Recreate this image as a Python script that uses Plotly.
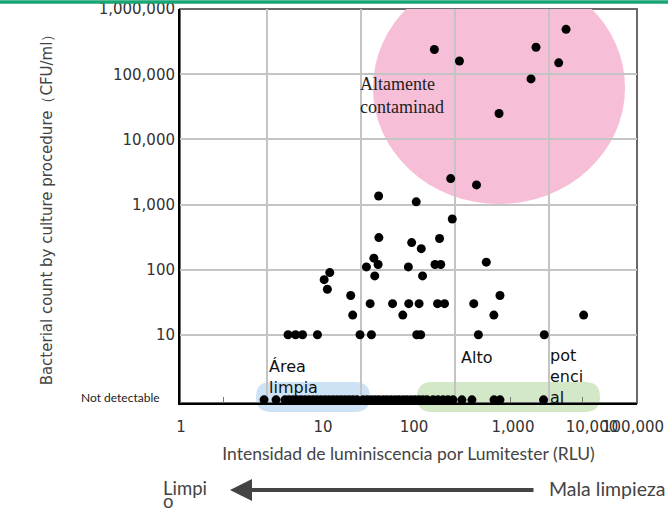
import plotly.graph_objects as go

# ---------------- data ----------------
RLU_DETECTED = [606, 1120, 7290, 15200, 12700, 6450, 2950, 904, 1700, 155, 389, 940,
                156, 348, 440, 688, 138, 115, 153, 321, 616, 708, 2160, 141, 454,
                46.9, 40.9, 44.2, 78.3, 82.2, 126, 218, 280, 324, 417, 655, 778, 1590, 3020, 2600, 23400,
                16.9, 20.3, 24.1, 34.7, 98.3, 130, 394, 434, 1780, 8930]
CFU_DETECTED = [240000, 160000, 260000, 490000, 150000, 85000, 25000, 2500, 2000, 1350, 1100, 600,
                310, 260, 210, 300, 150, 110, 120, 110, 120, 120, 130, 80, 80,
                90, 70, 50, 40, 20, 30, 30, 20, 30, 30, 30, 30, 30, 40, 20, 20,
                10, 10, 10, 10, 10, 10, 10, 10, 10, 10]
RLU_NOT_DETECTED = [9.4, 12.6, 15.7, 17.3, 19.1, 21.0, 23.2, 25.6, 28.2, 31.1, 34.3, 37.8,
                    41.8, 46.0, 50.8, 56.0, 61.8, 68.1, 75.1, 82.8, 91.3, 106, 117, 129,
                    142, 156, 173, 190, 210, 232, 255, 282, 310, 343, 378, 417, 459, 507,
                    587, 663, 750, 847, 957, 1190, 1520, 2610, 3020, 8770]
NOT_DETECTED_LEVEL = 1

Y_TICK_VALUES = [10, 100, 1000, 10000, 100000, 1000000]
Y_TICK_TEXT = ["10", "100", "1,000", "10,000", "100,000", "1,000,000"]
X_GRID_VALUES = [10, 100, 1000, 10000]
X_TICK_TEXT = ["1", "10", "100", "1,000", "10,000", "100,000"]
X_TICK_LABEL_AT = [1.23, 39.7, 368, 4150, 28700, 78300]
X_MINOR_MARKS = [3.5, 3860, 23000]

# ---------------- layout geometry ----------------
W, H = 668, 513
L, R, T, B = 180, 31, 9, 110
PW, PH = W - L - R, H - T - B
X_RANGE = [0.0797, 4.936]
Y_RANGE = [-0.049, 6.003]


def px(xp):
    return (xp - L) / PW


def py(yp):
    return (T + PH - yp) / PH


fig = go.Figure()
fig.add_trace(go.Scatter(x=RLU_DETECTED, y=CFU_DETECTED, mode="markers",
                         marker=dict(color="black", size=9), showlegend=False))
fig.add_trace(go.Scatter(x=RLU_NOT_DETECTED, y=[NOT_DETECTED_LEVEL] * len(RLU_NOT_DETECTED),
                         mode="markers", marker=dict(color="black", size=9), showlegend=False))


def pill(x0p, x1p, y0p, y1p, color):
    r = (y1p - y0p) / 2.0
    xa, xb = px(x0p), px(x1p)
    ya, yb = py(y1p), py(y0p)
    rx = r / PW
    ym = (ya + yb) / 2
    path = (f"M {xa+rx},{yb} L {xb-rx},{yb} Q {xb},{yb} {xb},{ym} Q {xb},{ya} {xb-rx},{ya} "
            f"L {xa+rx},{ya} Q {xa},{ya} {xa},{ym} Q {xa},{yb} {xa+rx},{yb} Z")
    return dict(type="path", xref="paper", yref="paper", path=path, fillcolor=color,
                line=dict(width=0), layer="below")


shapes = [
    # pink ellipse (clipped by the plot area)
    dict(type="circle", xref="x", yref="y", x0=135, x1=64400, y0=1018, y1=3.81e6,
         fillcolor="#f7bfd7", line=dict(width=0), layer="below"),
    pill(256, 370, 382, 412, "#cde3f5"),
    pill(417, 600, 382, 412, "#d2e8c6"),
    # top/right frame
    dict(type="rect", xref="paper", yref="paper", x0=0, x1=1, y0=0, y1=1,
         line=dict(color="#6a6a6a", width=2), layer="below"),
    # green band at the very top
    dict(type="line", xref="paper", yref="paper", x0=px(0), x1=px(W), y0=py(2), y1=py(2),
         line=dict(color="#17a673", width=3.5)),
]

annotations = [
    dict(text="Altamente<br>contaminad", x=px(358), y=py(95), xref="paper", yref="paper",
         xanchor="left", yanchor="middle", align="left", showarrow=False,
         font=dict(family="Liberation Serif", size=18, color="#222")),
    dict(text="Área<br>limpia", x=px(267), y=py(377), xref="paper", yref="paper",
         xanchor="left", yanchor="middle", align="left", showarrow=False,
         font=dict(family="DejaVu Sans", size=16, color="#111")),
    dict(text="Alto", x=px(459), y=py(357), xref="paper", yref="paper",
         xanchor="left", yanchor="middle", align="left", showarrow=False,
         font=dict(family="DejaVu Sans", size=16, color="#111")),
    dict(text="pot<br>enci<br>al", x=px(548), y=py(376), xref="paper", yref="paper",
         xanchor="left", yanchor="middle", align="left", showarrow=False,
         font=dict(family="DejaVu Sans", size=16, color="#111")),
    dict(text="Not detectable", x=px(162), y=py(397), xref="paper", yref="paper",
         xanchor="right", yanchor="middle", showarrow=False,
         font=dict(family="Lato", size=12, color="#222")),
    dict(text="Limpi", x=px(161), y=py(488), xref="paper", yref="paper",
         xanchor="left", yanchor="middle", align="left", showarrow=False,
         font=dict(family="Lato", size=18.5, color="#444")),
    dict(text="o", x=px(161), y=py(501), xref="paper", yref="paper",
         xanchor="left", yanchor="middle", align="left", showarrow=False,
         font=dict(family="Lato", size=18.5, color="#444")),
    dict(text="Mala limpieza", x=px(547), y=py(488), xref="paper", yref="paper",
         xanchor="left", yanchor="middle", showarrow=False,
         font=dict(family="Lato", size=19.5, color="#444")),
    dict(text="", x=px(230), y=py(490), xref="paper", yref="paper", showarrow=True,
         ax=305, ay=0, arrowhead=2, arrowsize=1.1, arrowwidth=4, arrowcolor="#444",
         standoff=0),
]

fig.update_layout(
    width=W, height=H, autosize=False,
    margin=dict(l=L, r=R, t=T, b=B, pad=0, autoexpand=False),
    paper_bgcolor="white", plot_bgcolor="white",
    showlegend=False,
    shapes=shapes, annotations=annotations,
    xaxis=dict(type="log", range=X_RANGE, tickvals=X_GRID_VALUES, showticklabels=False,
               ticks="", showgrid=True, gridcolor="#c4c4c4", gridwidth=1.5,
               showline=True, linecolor="black", linewidth=2, zeroline=False,
               automargin=False,
               title=dict(text="Intensidad de luminiscencia por Lumitester (RLU)", standoff=44,
                          font=dict(family="Lato", size=17.5, color="#444"))),
    xaxis2=dict(type="log", range=X_RANGE, overlaying="x", anchor="y", side="bottom",
                tickvals=X_TICK_LABEL_AT, ticktext=X_TICK_TEXT, showgrid=False,
                showline=False, zeroline=False, ticks="outside", ticklen=10,
                tickcolor="rgba(0,0,0,0)", tickangle=0, automargin=False,
                tickfont=dict(family="DejaVu Sans", size=15, color="#333")),
    xaxis3=dict(type="log", range=X_RANGE, overlaying="x", anchor="y", side="bottom",
                tickvals=X_MINOR_MARKS, showticklabels=False, showgrid=False,
                showline=False, zeroline=False, ticks="inside", ticklen=6, tickwidth=1,
                tickcolor="#777", automargin=False),
    yaxis=dict(type="log", range=Y_RANGE, tickvals=Y_TICK_VALUES, ticktext=Y_TICK_TEXT,
               ticks="", showgrid=True, gridcolor="#c4c4c4", gridwidth=1.5,
               showline=True, linecolor="black", linewidth=2, zeroline=False,
               automargin=False,
               tickfont=dict(family="DejaVu Sans", size=15, color="#333"),
               title=dict(text="Bacterial count by culture procedure（CFU/ml）", standoff=42,
                          font=dict(family="DejaVu Sans", size=15, color="#444"))),
)
# empty traces to activate the overlay axes
fig.add_trace(go.Scatter(x=[], y=[], xaxis="x2", yaxis="y", showlegend=False))
fig.add_trace(go.Scatter(x=[], y=[], xaxis="x3", yaxis="y", showlegend=False))

# the page's default 8px body margin would shift the 668x513 figure; remove it
fig.write_html("out.html", config={"displayModeBar": False},
               post_script="document.body.style.margin='0px';")
